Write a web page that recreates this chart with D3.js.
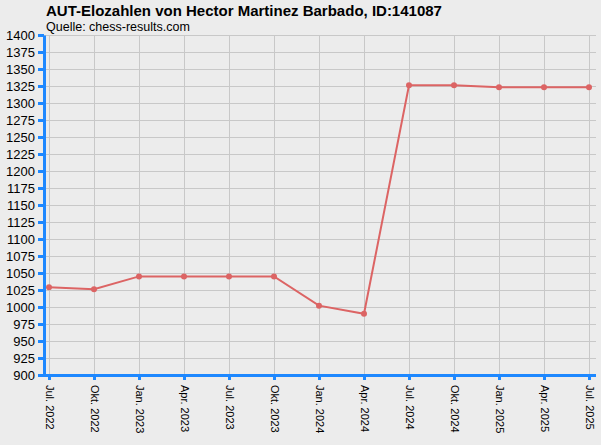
<!DOCTYPE html>
<html>
<head>
<meta charset="utf-8">
<script src="https://cdn.jsdelivr.net/npm/d3@7"></script>
<style>
  body { margin: 0; background: #ececec; }
  text { font-family: "Liberation Sans", Arial, sans-serif; }
</style>
</head>
<body>
<div id="chart"></div>
<script>
// data
const periods = ["Jul. 2022", "Okt. 2022", "Jan. 2023", "Apr. 2023", "Jul. 2023", "Okt. 2023",
  "Jan. 2024", "Apr. 2024", "Jul. 2024", "Okt. 2024", "Jan. 2025", "Apr. 2025", "Jul. 2025"];
const elo = [1029, 1026, 1045, 1045, 1045, 1045, 1002, 990, 1326, 1326, 1323, 1323, 1323];
const yTicks = d3.range(900, 1401, 25);

const width = 601, height = 445;
const plotLeft = 44, plotRight = 596, plotTop = 35, plotBottom = 375;

const svg = d3.select("#chart").append("svg")
    .attr("width", width)
    .attr("height", height)
    .style("display", "block");

svg.append("rect").attr("width", width).attr("height", height).attr("fill", "#ececec");

const x = d3.scalePoint().domain(periods).range([49, 589]);
const y = d3.scaleLinear().domain([900, 1400]).range([plotBottom, plotTop]);

// grid
svg.append("g").selectAll("line")
    .data(yTicks.slice(1))
    .join("line")
    .attr("x1", plotLeft).attr("x2", plotRight)
    .attr("y1", d => y(d) + 0.5).attr("y2", d => y(d) + 0.5)
    .attr("stroke", "#c8c8c8");

svg.append("g").selectAll("line")
    .data(periods)
    .join("line")
    .attr("x1", d => x(d) + 0.5).attr("x2", d => x(d) + 0.5)
    .attr("y1", plotTop).attr("y2", plotBottom)
    .attr("stroke", "#c8c8c8");

// y axis
const yAxis = svg.append("g")
    .attr("transform", `translate(${plotLeft},0)`)
    .call(d3.axisLeft(y).tickValues(yTicks).tickFormat(d3.format("d"))
        .tickSize(6).tickPadding(3).tickSizeOuter(0));
yAxis.select(".domain").attr("stroke", "#1e88ff").attr("stroke-width", 3);
yAxis.selectAll(".tick line").attr("stroke", "#1e88ff").attr("stroke-width", 3);
yAxis.selectAll(".tick text").attr("fill", "#000").attr("font-size", 13)
    .attr("font-family", "Liberation Sans, Arial, sans-serif");

// x axis
const xAxis = svg.append("g")
    .attr("transform", `translate(0,${plotBottom})`)
    .call(d3.axisBottom(x).tickSize(5).tickSizeOuter(0));
xAxis.select(".domain").attr("d", `M${plotLeft},0.5H${plotRight}`)
    .attr("stroke", "#1e88ff").attr("stroke-width", 3);
xAxis.selectAll(".tick line").attr("stroke", "#1e88ff").attr("stroke-width", 3);
xAxis.selectAll(".tick text")
    .attr("fill", "#000").attr("font-size", 11)
    .attr("font-family", "Liberation Sans, Arial, sans-serif")
    .attr("text-anchor", "start")
    .attr("transform", "rotate(90)")
    .attr("x", 10).attr("y", 0).attr("dy", "0.35em");

// line + points
svg.append("path")
    .datum(elo)
    .attr("fill", "none")
    .attr("stroke", "#dc6464")
    .attr("stroke-width", 2)
    .attr("d", d3.line().x((d, i) => x(periods[i])).y(d => y(d)));

svg.append("g").selectAll("circle")
    .data(elo)
    .join("circle")
    .attr("cx", (d, i) => x(periods[i]))
    .attr("cy", d => y(d))
    .attr("r", 3)
    .attr("fill", "#dc6464");

// titles
svg.append("text").attr("x", 46).attr("y", 16)
    .attr("font-size", 15).attr("font-weight", "bold")
    .text("AUT-Elozahlen von Hector Martinez Barbado, ID:141087");
svg.append("text").attr("x", 46).attr("y", 31)
    .attr("font-size", 12.5)
    .text("Quelle: chess-results.com");
</script>
</body>
</html>
